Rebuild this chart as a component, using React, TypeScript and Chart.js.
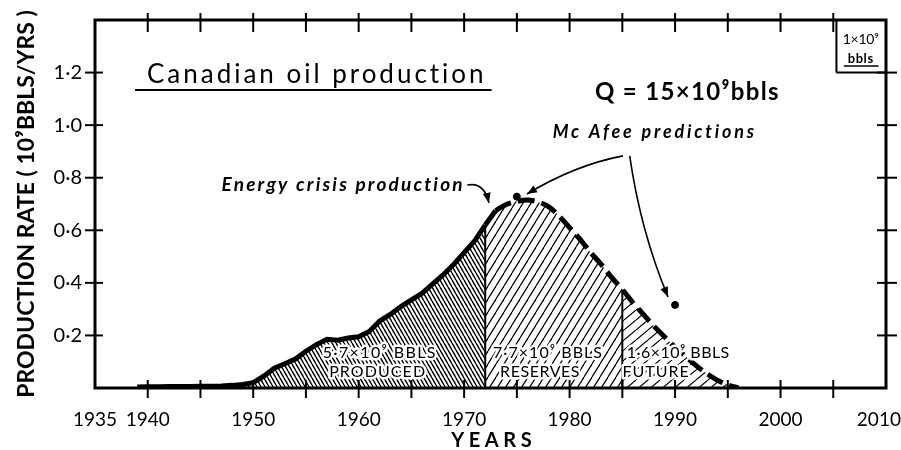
import React, { useEffect, useRef } from 'react';
import { Chart, registerables } from 'chart.js';

Chart.register(...registerables);

// ---------- data ----------
const producedYears = [1939, 1940, 1941, 1942, 1943, 1944, 1945, 1946, 1947, 1948, 1949, 1950, 1951, 1952, 1953, 1954, 1955, 1956, 1957, 1958, 1959, 1960, 1961, 1962, 1963, 1964, 1965, 1966, 1967, 1968, 1969, 1970, 1971, 1972];
const producedRate = [0.004, 0.005, 0.005, 0.006, 0.006, 0.006, 0.007, 0.007, 0.008, 0.01, 0.013, 0.02, 0.045, 0.075, 0.092, 0.11, 0.14, 0.165, 0.185, 0.182, 0.19, 0.195, 0.215, 0.255, 0.28, 0.31, 0.335, 0.36, 0.395, 0.43, 0.47, 0.515, 0.56, 0.62];

const crisisYears = [1972, 1973];
const crisisRate = [0.62, 0.675];

const forecastYears = [1973, 1974, 1975, 1976, 1977, 1978, 1979, 1980, 1981, 1982, 1983, 1984, 1985, 1986, 1987, 1988, 1989, 1990, 1991, 1992, 1993, 1994, 1995, 1996];
const forecastRate = [0.675, 0.698, 0.71, 0.715, 0.708, 0.69, 0.655, 0.61, 0.565, 0.515, 0.47, 0.42, 0.375, 0.325, 0.28, 0.235, 0.195, 0.155, 0.12, 0.085, 0.055, 0.03, 0.012, 0];

const predictionYears = [1975, 1990];
const predictionRate = [0.728, 0.316];

const producedEnd = 1972;
const reservesEnd = 1985;

const xLabelValues = [1935, 1940, 1950, 1960, 1970, 1980, 1990, 2000, 2010];
const xLabels = ['1935', '1940', '1950', '1960', '1970', '1980', '1990', '2000', '2010\u2003'];
const yLabelValues = [0.2, 0.4, 0.6, 0.8, 1.0, 1.2];
const yLabels = ['0·2', '0·4', '0·6', '0·8', '1·0', '1·2'];
const xMarkYears = [1940, 1945, 1950, 1955, 1960, 1965, 1970, 1975, 1980, 1985, 1990, 1995, 2000, 2005];

const FONT = 'Lato, "DejaVu Sans", sans-serif';

// ---------- helpers ----------
function pts(xs: number[], ys: number[]) {
  return xs.map((x, i) => ({ x, y: ys[i] }));
}

function hatch(w: number, h: number, dir: 1 | -1, lw: number) {
  const c = document.createElement('canvas');
  c.width = w;
  c.height = h;
  const g = c.getContext('2d')!;
  g.strokeStyle = '#000';
  g.lineWidth = lw;
  for (const o of [-w, 0, w]) {
    g.beginPath();
    if (dir === 1) {
      g.moveTo(o, h);
      g.lineTo(o + w, 0);
    } else {
      g.moveTo(o, 0);
      g.lineTo(o + w, h);
    }
    g.stroke();
  }
  return g.createPattern(c, 'repeat')!;
}

function fitText(ctx: CanvasRenderingContext2D, text: string, x: number, y: number, font: string, width: number, align: 'left' | 'center', halo = false) {
  ctx.font = font;
  (ctx as any).letterSpacing = '0px';
  const w = ctx.measureText(text).width;
  const n = Array.from(text).length;
  let ls = (width - w) / n;
  ls = Math.max(-3, Math.min(10, ls));
  (ctx as any).letterSpacing = ls + 'px';
  const left = align === 'center' ? x - width / 2 : x;
  ctx.textAlign = 'left';
  if (halo) {
    ctx.strokeStyle = '#fff';
    ctx.lineWidth = 5;
    ctx.lineJoin = 'round';
    ctx.strokeText(text, left, y);
  }
  ctx.fillStyle = '#000';
  ctx.fillText(text, left, y);
  (ctx as any).letterSpacing = '0px';
}

function arrow(ctx: CanvasRenderingContext2D, p0: number[], c: number[], p1: number[]) {
  ctx.strokeStyle = '#000';
  ctx.lineWidth = 1.6;
  ctx.beginPath();
  ctx.moveTo(p0[0], p0[1]);
  ctx.quadraticCurveTo(c[0], c[1], p1[0], p1[1]);
  ctx.stroke();
  const ang = Math.atan2(p1[1] - c[1], p1[0] - c[0]);
  const L = 10, W = 4;
  ctx.beginPath();
  ctx.moveTo(p1[0], p1[1]);
  ctx.lineTo(p1[0] - L * Math.cos(ang) + W * Math.sin(ang), p1[1] - L * Math.sin(ang) - W * Math.cos(ang));
  ctx.lineTo(p1[0] - L * Math.cos(ang) - W * Math.sin(ang), p1[1] - L * Math.sin(ang) + W * Math.cos(ang));
  ctx.closePath();
  ctx.fillStyle = '#000';
  ctx.fill();
}

const notes = {
  id: 'notes',
  afterDatasetsDraw(chart: any) {
    const { ctx, scales } = chart;
    const X = (v: number) => scales.x.getPixelForValue(v);
    const Y = (v: number) => scales.y.getPixelForValue(v);
    ctx.save();
    ctx.textBaseline = 'middle';
    const f = `16px ${FONT}`;
    fitText(ctx, '5·7×10⁹ BBLS', X(1962.0), Y(0.135), f, 114, 'center', true);
    fitText(ctx, 'PRODUCED', X(1961.8), Y(0.063), f, 97, 'center', true);
    fitText(ctx, '7·7×10⁹ BBLS', X(1977.95), Y(0.135), f, 110, 'center', true);
    fitText(ctx, 'RESERVES', X(1977.2), Y(0.063), f, 80, 'center', true);
    fitText(ctx, '1·6×10⁹ BBLS', X(1990.3), Y(0.135), f, 103, 'center', true);
    fitText(ctx, 'FUTURE', X(1988.2), Y(0.063), f, 67, 'center', true);
    ctx.restore();
  },
  afterDraw(chart: any) {
    const { ctx, chartArea: a, scales } = chart;
    const X = (v: number) => scales.x.getPixelForValue(v);
    const Y = (v: number) => scales.y.getPixelForValue(v);
    ctx.save();
    ctx.strokeStyle = '#000';
    ctx.lineWidth = 3;
    ctx.strokeRect(a.left, a.top, a.right - a.left, a.bottom - a.top);
    ctx.lineWidth = 2;
    const seg = (x1: number, y1: number, x2: number, y2: number) => {
      ctx.beginPath();
      ctx.moveTo(x1, y1);
      ctx.lineTo(x2, y2);
      ctx.stroke();
    };
    for (const v of xMarkYears) {
      const px = X(v);
      seg(px, a.bottom - 8, px, a.bottom + 10);
      seg(px, a.top - 7, px, a.top + 12);
    }
    for (const v of yLabelValues) {
      const py = Y(v);
      seg(a.left - 10, py, a.left + 8, py);
      seg(a.right - 9, py, a.right + 11, py);
    }
    // unit box
    ctx.lineWidth = 2;
    seg(X(2005.3), a.top, X(2005.3), Y(1.2));
    seg(X(2005.3), Y(1.2), a.right, Y(1.2));
    ctx.textBaseline = 'alphabetic';
    fitText(ctx, '1×10⁹', X(2007.6), Y(1.31), `14px ${FONT}`, 36, 'center');
    fitText(ctx, 'bbls', X(2007.6), Y(1.235), `bold 13px ${FONT}`, 26, 'center');
    ctx.lineWidth = 1.5;
    seg(X(2006.0), Y(1.225), X(2009.3), Y(1.225));

    // title
    fitText(ctx, 'Canadian oil production', X(1939.93), Y(1.16), `26px ${FONT}`, 340, 'left');
    ctx.lineWidth = 2;
    seg(X(1938.8), Y(1.134), X(1972.6), Y(1.134));

    fitText(ctx, 'Q = 15×10⁹bbls', X(1982.4), Y(1.096), `bold 24px ${FONT}`, 185, 'left');
    fitText(ctx, 'Mc Afee predictions', X(1978.4), Y(0.951), `italic bold 18px ${FONT}`, 204, 'left');
    fitText(ctx, 'Energy crisis production', X(1947.0), Y(0.749), `italic bold 19px ${FONT}`, 243, 'left');

    // x-axis title
    fitText(ctx, 'YEARS', X(1972.8), 447, `bold 20px ${FONT}`, 85, 'center');

    // arrows
    arrow(ctx, [X(1970.3), Y(0.772)], [X(1971.9), Y(0.785)], [X(1972.35), Y(0.704)]);
    arrow(ctx, [X(1985.06), Y(0.883)], [X(1980.5), Y(0.848)], [X(1975.96), Y(0.738)]);
    arrow(ctx, [X(1985.7), Y(0.883)], [X(1986.7), Y(0.601)], [X(1989.33), Y(0.346)]);
    ctx.restore();
  },
};

export default function App() {
  const ref = useRef<HTMLCanvasElement>(null);
  useEffect(() => {
    document.body.style.margin = '0';
    const producedPts = pts(producedYears, producedRate);
    const crisisPts = pts(crisisYears, crisisRate);
    const forecastPts = pts(forecastYears, forecastRate);
    const allFuture = [...crisisPts, ...forecastPts.slice(1)];
    const reservesPts = allFuture.filter((p) => p.x <= reservesEnd);
    const futurePts = allFuture.filter((p) => p.x >= reservesEnd);
    const atYear = (yr: number) => allFuture.find((p) => p.x === yr)!.y;
    const sep1 = [{ x: producedEnd, y: 0 }, { x: producedEnd, y: atYear(producedEnd) }];
    const sep2 = [{ x: reservesEnd, y: 0 }, { x: reservesEnd, y: atYear(reservesEnd) }];

    const chart = new Chart(ref.current!, {
      type: 'line',
      data: {
        datasets: [
          { data: pts(predictionYears, predictionRate) as any, showLine: false, pointRadius: 3.5, pointBackgroundColor: '#000', pointBorderColor: '#000', order: 0 },
          { data: forecastPts as any, borderColor: '#000', borderWidth: 5, borderDash: [17, 7], cubicInterpolationMode: 'monotone', pointRadius: 0, fill: false, order: 1 },
          { data: crisisPts as any, borderColor: '#000', borderWidth: 5, pointRadius: 0, fill: false, order: 2 },
          { data: sep1 as any, borderColor: '#000', borderWidth: 2, pointRadius: 0, fill: false, order: 3 },
          { data: sep2 as any, borderColor: '#000', borderWidth: 2, pointRadius: 0, fill: false, order: 3 },
          { data: producedPts as any, borderColor: '#000', borderWidth: 5, pointRadius: 0, fill: 'origin', backgroundColor: hatch(4, 7, -1, 1.4), order: 4 },
          { data: futurePts as any, borderColor: 'rgba(0,0,0,0)', borderWidth: 1, pointRadius: 0, cubicInterpolationMode: 'monotone', fill: 'origin', backgroundColor: hatch(12, 10, 1, 1.2), order: 5 },
          { data: reservesPts as any, borderColor: 'rgba(0,0,0,0)', borderWidth: 1, pointRadius: 0, cubicInterpolationMode: 'monotone', fill: 'origin', backgroundColor: hatch(8, 13, 1, 1.2), order: 6 },
        ],
      },
      options: {
        animation: false,
        responsive: false,
        devicePixelRatio: 1,
        layout: { padding: { left: 0, right: 15, top: 20, bottom: 0 } },
        plugins: { legend: { display: false }, tooltip: { enabled: false } },
        scales: {
          x: {
            type: 'linear',
            min: 1935,
            max: 2010,
            grid: { display: false, drawTicks: false },
            border: { display: false },
            ticks: {
              stepSize: 5,
              autoSkip: false,
              maxRotation: 0,
              padding: 20,
              color: '#000',
              font: { family: FONT, size: 19 },
              callback: (v: any) => {
                const i = xLabelValues.indexOf(Number(v));
                return i >= 0 ? xLabels[i] : '';
              },
            },
            afterFit: (s: any) => {
              s.height = 62;
              s.paddingLeft = 0;
              s.paddingRight = 0;
            },
          },
          y: {
            min: 0,
            max: 1.4,
            grid: { display: false, drawTicks: false },
            border: { display: false },
            ticks: {
              stepSize: 0.2,
              padding: 13,
              color: '#000',
              font: { family: FONT, size: 20 },
              callback: (v: any) => {
                const i = yLabelValues.findIndex((t) => Math.abs(t - Number(v)) < 1e-6);
                return i >= 0 ? yLabels[i] : '';
              },
            },
            title: {
              display: true,
              text: 'PRODUCTION RATE ( 10⁹BBLS/YRS )',
              color: '#000',
              font: { family: FONT, size: 23, weight: 'bold' },
              padding: { top: 13, bottom: 0 },
            },
            afterFit: (s: any) => {
              s.width = 95;
              s.paddingTop = 0;
              s.paddingBottom = 0;
            },
          },
        },
      },
      plugins: [notes],
    } as any);
    return () => chart.destroy();
  }, []);
  return (
    <div style={{ width: 901, height: 450 }}>
      <canvas ref={ref} width={901} height={450} style={{ display: 'block', width: 901, height: 450 }} />
    </div>
  );
}
